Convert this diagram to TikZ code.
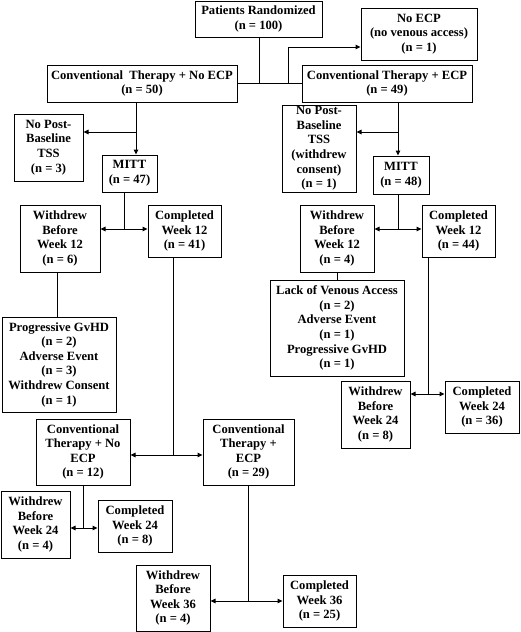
\documentclass[tikz,border=0pt]{standalone}
\usepackage{fontspec}
\setmainfont{Liberation Serif}
\usetikzlibrary{arrows.meta}
\tikzset{
  box/.style={draw, line width=1pt, inner sep=0pt, align=center,
    font=\fontsize{12.6}{14.6}\selectfont\bfseries},
  conn/.style={line width=1pt},
  arr/.style={conn, -{Triangle[length=5pt,width=4.5pt]}}
}
\newcommand\bx[6]{%
  \node[box, minimum width={(#4-#2)*1pt}, minimum height={(#5-#3)*1pt}]
    (#1) at ({(#2+#4)/2},{(#3+#5)/2}) {#6};}
\begin{document}
\begin{tikzpicture}[x=1pt,y=-1pt]
\useasboundingbox (0,0) rectangle (520,632);
% boxes
\bx{pr}{195}{1}{322}{37}{Patients Randomized\\(n = 100)}
\bx{noecp}{361}{8}{477}{60}{No ECP\\(no venous access)\\(n = 1)}
\bx{cnl}{47}{65}{237}{102}{Conventional\ \ Therapy + No ECP\\(n = 50)}
\bx{cer}{302}{65}{472}{102}{Conventional Therapy + ECP\\(n = 49)}
\bx{npbl}{14}{114}{83}{181}{No Post-\\Baseline\\TSS\\(n = 3)}
\bx{npbr}{282}{105}{356}{192}{No Post-\\Baseline\\TSS\\(withdrew\\consent)\\(n = 1)}
\bx{mittl}{102}{155}{157}{192}{MITT\\(n = 47)}
\bx{mittr}{373}{156}{429}{194}{MITT\\(n = 48)}
\bx{wdl}{20}{205}{100}{272}{Withdrew\\Before\\Week 12\\(n = 6)}
\bx{cpl}{148}{205}{221}{257}{Completed\\Week 12\\(n = 41)}
\bx{wdr}{300}{205}{374}{272}{Withdrew\\Before\\Week 12\\(n = 4)}
\bx{cpr}{422}{205}{495}{257}{Completed\\Week 12\\(n = 44)}
\bx{rsl}{2}{317}{116}{412}{Progressive GvHD\\(n = 2)\\Adverse Event\\(n = 3)\\Withdrew Consent\\(n = 1)}
\bx{rsr}{270}{280}{404}{376}{Lack of Venous Access\\(n = 2)\\Adverse Event\\(n = 1)\\Progressive GvHD\\(n = 1)}
\bx{wd24r}{341}{381}{410}{448}{Withdrew\\Before\\Week 24\\(n = 8)}
\bx{cp24r}{445}{381}{519}{433}{Completed\\Week 24\\(n = 36)}
\bx{cnl2}{36}{419}{130}{485}{Conventional\\Therapy + No\\ECP\\(n = 12)}
\bx{cer2}{203}{419}{294}{485}{Conventional\\Therapy +\\ECP\\(n = 29)}
\bx{wd24l}{1}{491}{70}{558}{Withdrew\\Before\\Week 24\\(n = 4)}
\bx{cp24l}{98}{500}{172}{552}{Completed\\Week 24\\(n = 8)}
\bx{wd36}{136}{565}{210}{631}{Withdrew\\Before\\Week 36\\(n = 4)}
\bx{cp36}{283}{575}{356}{627}{Completed\\Week 36\\(n = 25)}
% junction coordinates
\coordinate (j0) at (259,83);
\coordinate (j1) at (288,83);
\coordinate (j1t) at (288,47);
\coordinate (jl1) at (136,132);
\coordinate (jr1) at (398,132);
\coordinate (jl2) at (124,229);
\coordinate (jr2) at (398,229);
\coordinate (jl3) at (173,455);
\coordinate (jr3) at (428,394);
\coordinate (jl4) at (83,528);
\coordinate (jm4) at (248,601);
% connectors
\draw[conn] (pr.south -| j0) -- (j0);
\draw[conn] (cnl.east) -- (cer.west);
\draw[arr] (j1) -- (j1t) -- (j1t -| noecp.west);
\draw[arr] (cnl.south -| jl1) -- (jl1 |- mittl.north);
\draw[arr] (jl1) -- (jl1 -| npbl.east);
\draw[arr] (cer.south -| jr1) -- (jr1 |- mittr.north);
\draw[arr] (jr1) -- (jr1 -| npbr.east);
\draw[conn] (mittl.south -| jl2) -- (jl2);
\draw[arr] (jl2) -- (jl2 -| wdl.east);
\draw[arr] (jl2) -- (jl2 -| cpl.west);
\draw[conn] (mittr.south -| jr2) -- (jr2);
\draw[arr] (jr2) -- (jr2 -| wdr.east);
\draw[arr] (jr2) -- (jr2 -| cpr.west);
\draw[conn] (wdl.south -| 57,0) -- (rsl.north -| 57,0);
\draw[conn] (wdr.south -| 337,0) -- (rsr.north -| 337,0);
\draw[conn] (cpl.south -| jl3) -- (jl3);
\draw[arr] (jl3) -- (jl3 -| cnl2.east);
\draw[arr] (jl3) -- (jl3 -| cer2.west);
\draw[conn] (cpr.south -| jr3) -- (jr3);
\draw[arr] (jr3) -- (jr3 -| wd24r.east);
\draw[arr] (jr3) -- (jr3 -| cp24r.west);
\draw[conn] (cnl2.south -| jl4) -- (jl4);
\draw[arr] (jl4) -- (jl4 -| wd24l.east);
\draw[arr] (jl4) -- (jl4 -| cp24l.west);
\draw[conn] (cer2.south -| jm4) -- (jm4);
\draw[arr] (jm4) -- (jm4 -| wd36.east);
\draw[arr] (jm4) -- (jm4 -| cp36.west);
\end{tikzpicture}
\end{document}
